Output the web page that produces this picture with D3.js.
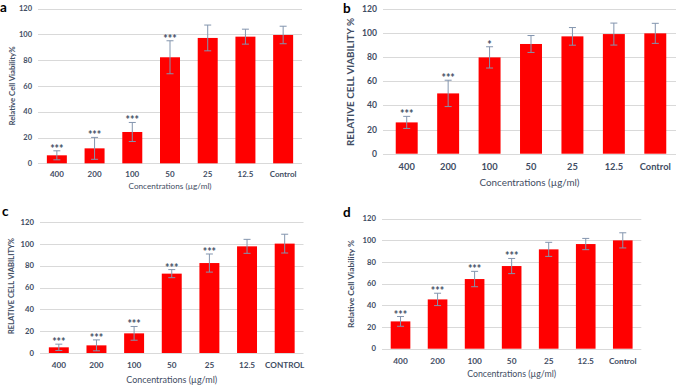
<!DOCTYPE html>
<html>
<head>
<meta charset="utf-8">
<script src="https://cdn.jsdelivr.net/npm/d3@7"></script>
<style>
  html, body { margin: 0; padding: 0; background: #fff; }
  svg { display: block; }
  text { font-family: Lato, "Open Sans", sans-serif; }
</style>
</head>
<body>
<svg id="chart" width="676" height="385"></svg>
<script>
// data
var categories = ["400", "200", "100", "50", "25", "12.5", "Control"];
var categoriesC = ["400", "200", "100", "50", "25", "12.5", "CONTROL"];
var yTicks = [0, 20, 40, 60, 80, 100, 120];

var meanA = [6.2, 11.6, 24.3, 82.3, 97.3, 98.3, 99.6];
var sdA = [3.5, 8.5, 7.4, 12.8, 10, 5.8, 6.8];
var starsA = ["***", "***", "***", "***", "", "", ""];

var meanB = [25.9, 49.9, 79.7, 90.8, 97.1, 99, 99.6];
var sdB = [5, 10.9, 8.8, 7, 7.3, 9.1, 8.3];
var starsB = ["***", "***", "*", "", "", "", ""];

var meanC = [5.2, 7, 18, 72.7, 82.4, 97.7, 100.2];
var sdC = [2.9, 5, 6.3, 3.7, 8.3, 6.4, 8.6];
var starsC = ["***", "***", "***", "***", "***", "", ""];

var meanD = [25.2, 45.5, 64.3, 76.3, 91.7, 96.6, 100];
var sdD = [4.5, 5.7, 7.1, 7, 6.5, 5.2, 7];
var starsD = ["***", "***", "***", "***", "", "", ""];

var textColor = "#3f4d63";
var errColor = "#8395ae";

var panels = [
  {label: "a", lx: 0, ly: 12, cats: categories, mean: meanA, sd: sdA, stars: starsA,
   x0: 38, x1: 302, y0: 163.3, y1: 8.7, tickFs: 7.5, catFs: 8, catY: 177,
   xTitleY: 189, xTitleFs: 8, xTitleLen: 83,
   yTitle: "Relative Cell Viability%", yTitleX: 12, yTitleY: 86, yTitleFs: 7.5, yTitleLen: 79},
  {label: "b", lx: 343, ly: 12.5, cats: categories, mean: meanB, sd: sdB, stars: starsB,
   x0: 386, x1: 676, gx0: 383, y0: 153.7, y1: 8.7, tickFs: 8.6, catFs: 9.3, catY: 169.5,
   xTitleY: 186, xTitleFs: 9.5, xTitleLen: 100,
   yTitle: "RELATIVE CELL VIABILITY %", yTitleX: 351, yTitleY: 82, yTitleFs: 8.5, yTitleLen: 128},
  {label: "c", lx: 2, ly: 216, cats: categoriesC, mean: meanC, sd: sdC, stars: starsC,
   x0: 40, x1: 303.5, y0: 353, y1: 222, tickFs: 7.7, catFs: 8.2, catY: 368,
   xTitleY: 383, xTitleFs: 8.8, xTitleLen: 91,
   yTitle: "RELATIVE  CELL VIABILITY%", yTitleX: 11, yTitleY: 286, yTitleFs: 7.5, yTitleLen: 96},
  {label: "d", lx: 343, ly: 217, cats: categories, mean: meanD, sd: sdD, stars: starsD,
   x0: 382, x1: 641.3, y0: 348.7, y1: 218.7, tickFs: 7.7, catFs: 8.3, catY: 364,
   xTitleY: 377, xTitleFs: 8.6, xTitleLen: 89,
   yTitle: "Relative Cell Viability %", yTitleX: 351, yTitleY: 284, yTitleFs: 8, yTitleLen: 88}
];

var svg = d3.select("#chart");

panels.forEach(function(p) {
  var g = svg.append("g");

  var x = d3.scaleBand()
            .domain(p.cats)
            .range([p.x0, p.x1])
            .paddingInner(0.47)
            .paddingOuter(0.235);
  var y = d3.scaleLinear()
            .domain([0, 120])
            .range([p.y0, p.y1]);
  var gx0 = p.gx0 || p.x0;

  // gridlines
  g.selectAll(".grid")
   .data(yTicks)
   .enter()
   .append("line")
   .attr("x1", gx0)
   .attr("x2", p.x1)
   .attr("y1", function(d) { return Math.round(y(d)) + 0.5; })
   .attr("y2", function(d) { return Math.round(y(d)) + 0.5; })
   .attr("stroke", "#d9d9d9")
   .attr("stroke-width", 1);

  // y tick labels
  g.selectAll(".ytick")
   .data(yTicks)
   .enter()
   .append("text")
   .attr("x", gx0 - 6)
   .attr("y", function(d) { return y(d); })
   .attr("dy", "0.35em")
   .attr("text-anchor", "end")
   .attr("font-size", p.tickFs)
   .attr("font-weight", "bold")
   .attr("fill", textColor)
   .text(function(d) { return d; });

  // bars
  g.selectAll(".bar")
   .data(p.mean)
   .enter()
   .append("rect")
   .attr("x", function(d, i) { return x(p.cats[i]); })
   .attr("width", x.bandwidth())
   .attr("y", function(d) { return y(d); })
   .attr("height", function(d) { return p.y0 - y(d); })
   .attr("fill", "#ff0000");

  // error bars
  var err = g.selectAll(".err")
             .data(p.mean)
             .enter()
             .append("g")
             .attr("stroke", errColor)
             .attr("stroke-width", 1);
  err.append("line")
     .attr("x1", function(d, i) { return x(p.cats[i]) + x.bandwidth() / 2; })
     .attr("x2", function(d, i) { return x(p.cats[i]) + x.bandwidth() / 2; })
     .attr("y1", function(d, i) { return y(d + p.sd[i]); })
     .attr("y2", function(d, i) { return y(Math.max(0, d - p.sd[i])); });
  [1, -1].forEach(function(s) {
    err.append("line")
       .attr("x1", function(d, i) { return x(p.cats[i]) + x.bandwidth() / 2 - 3.5; })
       .attr("x2", function(d, i) { return x(p.cats[i]) + x.bandwidth() / 2 + 3.5; })
       .attr("y1", function(d, i) { return y(Math.max(0, d + s * p.sd[i])); })
       .attr("y2", function(d, i) { return y(Math.max(0, d + s * p.sd[i])); });
  });

  // significance stars
  g.selectAll(".star")
   .data(p.stars)
   .enter()
   .append("text")
   .attr("x", function(d, i) { return x(p.cats[i]) + x.bandwidth() / 2; })
   .attr("y", function(d, i) { return y(p.mean[i] + p.sd[i]) + 2; })
   .attr("text-anchor", "middle")
   .attr("font-size", 10.5)
   .attr("font-weight", "bold")
   .attr("fill", textColor)
   .text(function(d) { return d; });

  // category labels
  g.selectAll(".cat")
   .data(p.cats)
   .enter()
   .append("text")
   .attr("x", function(d) { return x(d) + x.bandwidth() / 2; })
   .attr("y", p.catY)
   .attr("text-anchor", "middle")
   .attr("font-size", p.catFs)
   .attr("font-weight", "bold")
   .attr("fill", textColor)
   .text(function(d) { return d; });

  // axis titles
  g.append("text")
   .attr("x", (gx0 + p.x1) / 2)
   .attr("y", p.xTitleY)
   .attr("text-anchor", "middle")
   .attr("font-size", p.xTitleFs)
   .attr("textLength", p.xTitleLen)
   .attr("lengthAdjust", "spacingAndGlyphs")
   .attr("fill", textColor)
   .text("Concentrations (µg/ml)");

  g.append("text")
   .attr("transform", "translate(" + p.yTitleX + "," + p.yTitleY + ") rotate(-90)")
   .attr("text-anchor", "middle")
   .attr("dy", "0.35em")
   .attr("font-size", p.yTitleFs)
   .attr("font-weight", "bold")
   .attr("textLength", p.yTitleLen)
   .attr("lengthAdjust", "spacingAndGlyphs")
   .attr("fill", textColor)
   .text(p.yTitle);

  // panel letter
  g.append("text")
   .attr("x", p.lx)
   .attr("y", p.ly)
   .attr("font-family", "'Liberation Serif', 'DejaVu Serif', serif")
   .attr("font-size", 13.5)
   .attr("font-weight", "bold")
   .attr("fill", "#000")
   .text(p.label);
});
</script>
</body>
</html>
